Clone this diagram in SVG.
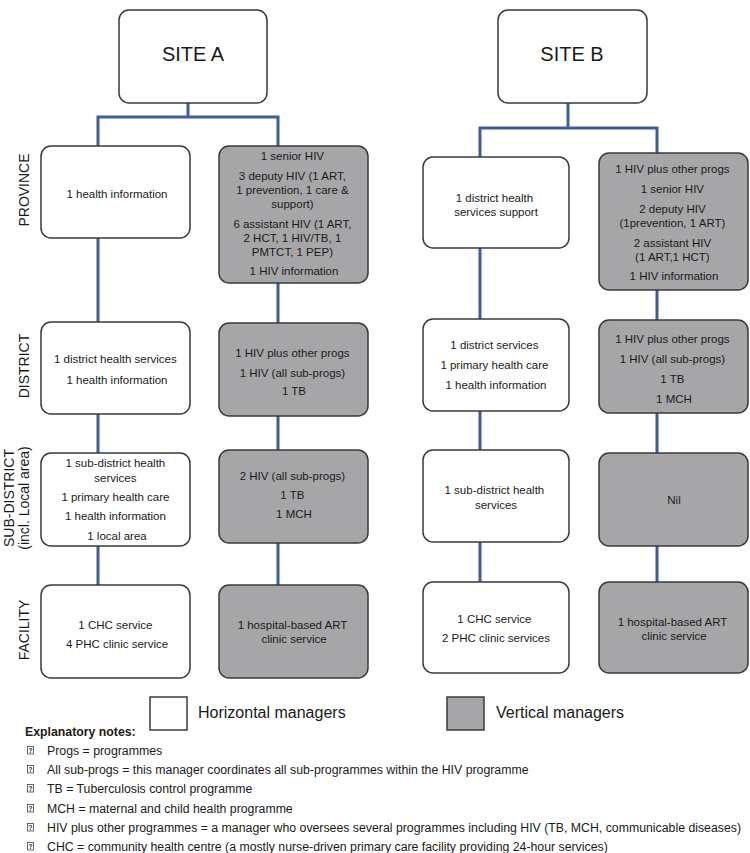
<svg xmlns="http://www.w3.org/2000/svg" width="750" height="853" viewBox="0 0 750 853">
<style>
  text { font-family: "Liberation Sans", Arial, sans-serif; fill: #1a1a1a; }
  .box { stroke: #3a3a3a; stroke-width: 1.5; }
  .h { fill: #ffffff; }
  .v { fill: #a6a6a8; }
  .t { font-size: 11.5px; text-anchor: middle; }
  .site { font-size: 20px; text-anchor: middle; }
  .row { font-size: 14px; text-anchor: middle; }
  .leg { font-size: 16px; }
  .note { font-size: 12.3px; }
  .bul { fill: #ffffff; stroke: #444; stroke-width: 0.8; }
  .q { font-size: 6.5px; text-anchor: middle; font-weight: bold; }
  .conn { fill: none; stroke: #3d5f91; stroke-width: 3; }
</style>

<g id="connectors">
  <path class="conn" d="M188,103 V117 M98,146 V117 H278 V146"/>
  <path class="conn" d="M98,238 V322 M98,414 V453 M98,546 V585"/>
  <path class="conn" d="M278,283 V323 M278,416 V450 M278,543 V585"/>
  <path class="conn" d="M568,103 V128 M480,157 V128 H657 V153"/>
  <path class="conn" d="M480,248 V319 M480,411 V450 M480,542 V582"/>
  <path class="conn" d="M657,290 V320 M657,413 V453 M657,546 V582"/>
</g>

<g id="row-labels">
  <text class="row" transform="translate(29,190) rotate(-90)">PROVINCE</text>
  <text class="row" transform="translate(29,366) rotate(-90)">DISTRICT</text>
  <text class="row" transform="translate(14,498) rotate(-90)">SUB-DISTRICT</text>
  <text class="row" transform="translate(28.5,498) rotate(-90)">(incl. Local area)</text>
  <text class="row" transform="translate(29,630) rotate(-90)">FACILITY</text>
</g>

<g id="site-a">
  <rect class="box h" x="119" y="10" width="148" height="93" rx="10"/>
  <text class="site" x="193" y="61">SITE A</text>
</g>
<g id="site-b">
  <rect class="box h" x="498" y="10" width="149" height="93" rx="10"/>
  <text class="site" x="572" y="61">SITE B</text>
</g>

<g id="a-province-h">
  <rect class="box h" x="41" y="146" width="149" height="92" rx="10"/>
  <text class="t" x="117" y="198">1 health information</text>
</g>
<g id="a-province-v">
  <rect class="box v" x="219" y="146" width="149" height="137" rx="10"/>
  <text class="t">
    <tspan x="294" y="160">1 senior HIV</tspan>
    <tspan x="294" y="180">3 deputy HIV (1 ART,</tspan>
    <tspan x="294" y="194">1 prevention, 1 care &amp;</tspan>
    <tspan x="294" y="208">support)</tspan>
    <tspan x="294" y="228">6 assistant HIV (1 ART,</tspan>
    <tspan x="294" y="242">2 HCT, 1 HIV/TB, 1</tspan>
    <tspan x="294" y="256">PMTCT, 1 PEP)</tspan>
    <tspan x="294" y="275">1 HIV information</tspan>
  </text>
</g>
<g id="a-district-h">
  <rect class="box h" x="41" y="322" width="149" height="92" rx="10"/>
  <text class="t">
    <tspan x="117" y="363">1 district health services</tspan>
    <tspan x="117" y="384">1 health information</tspan>
  </text>
</g>
<g id="a-district-v">
  <rect class="box v" x="219" y="323" width="149" height="93" rx="10"/>
  <text class="t">
    <tspan x="294" y="357">1 HIV plus other progs</tspan>
    <tspan x="294" y="377">1 HIV (all sub-progs)</tspan>
    <tspan x="294" y="395">1 TB</tspan>
  </text>
</g>
<g id="a-subdistrict-h">
  <rect class="box h" x="41" y="453" width="149" height="93" rx="10"/>
  <text class="t">
    <tspan x="117" y="467">1 sub-district health</tspan>
    <tspan x="117" y="482">services</tspan>
    <tspan x="117" y="501">1 primary health care</tspan>
    <tspan x="117" y="520">1 health information</tspan>
    <tspan x="117" y="540">1 local area</tspan>
  </text>
</g>
<g id="a-subdistrict-v">
  <rect class="box v" x="219" y="450" width="149" height="93" rx="10"/>
  <text class="t">
    <tspan x="294" y="480">2 HIV (all sub-progs)</tspan>
    <tspan x="294" y="499">1 TB</tspan>
    <tspan x="294" y="518">1 MCH</tspan>
  </text>
</g>
<g id="a-facility-h">
  <rect class="box h" x="41" y="585" width="149" height="93" rx="10"/>
  <text class="t">
    <tspan x="117" y="629">1 CHC service</tspan>
    <tspan x="117" y="648">4 PHC clinic service</tspan>
  </text>
</g>
<g id="a-facility-v">
  <rect class="box v" x="219" y="585" width="149" height="93" rx="10"/>
  <text class="t">
    <tspan x="294" y="629">1 hospital-based ART</tspan>
    <tspan x="294" y="643">clinic service</tspan>
  </text>
</g>

<g id="b-province-h">
  <rect class="box h" x="423" y="157" width="146" height="91" rx="10"/>
  <text class="t">
    <tspan x="496" y="202">1 district health</tspan>
    <tspan x="496" y="216">services support</tspan>
  </text>
</g>
<g id="b-province-v">
  <rect class="box v" x="599" y="153" width="149" height="137" rx="10"/>
  <text class="t">
    <tspan x="674" y="173">1 HIV plus other progs</tspan>
    <tspan x="674" y="193">1 senior HIV</tspan>
    <tspan x="674" y="213">2 deputy HIV</tspan>
    <tspan x="674" y="227">(1prevention, 1 ART)</tspan>
    <tspan x="674" y="247">2 assistant HIV</tspan>
    <tspan x="674" y="261">(1 ART,1 HCT)</tspan>
    <tspan x="674" y="280">1 HIV information</tspan>
  </text>
</g>
<g id="b-district-h">
  <rect class="box h" x="423" y="319" width="146" height="92" rx="10"/>
  <text class="t">
    <tspan x="496" y="349">1 district services</tspan>
    <tspan x="496" y="369">1 primary health care</tspan>
    <tspan x="496" y="389">1 health information</tspan>
  </text>
</g>
<g id="b-district-v">
  <rect class="box v" x="599" y="320" width="149" height="93" rx="10"/>
  <text class="t">
    <tspan x="674" y="343">1 HIV plus other progs</tspan>
    <tspan x="674" y="363">1 HIV (all sub-progs)</tspan>
    <tspan x="674" y="383">1 TB</tspan>
    <tspan x="674" y="403">1 MCH</tspan>
  </text>
</g>
<g id="b-subdistrict-h">
  <rect class="box h" x="423" y="450" width="146" height="92" rx="10"/>
  <text class="t">
    <tspan x="496" y="494">1 sub-district health</tspan>
    <tspan x="496" y="509">services</tspan>
  </text>
</g>
<g id="b-subdistrict-v">
  <rect class="box v" x="599" y="453" width="149" height="93" rx="10"/>
  <text class="t" x="674" y="504">Nil</text>
</g>
<g id="b-facility-h">
  <rect class="box h" x="423" y="582" width="146" height="91" rx="10"/>
  <text class="t">
    <tspan x="496" y="623">1 CHC service</tspan>
    <tspan x="496" y="642">2 PHC clinic services</tspan>
  </text>
</g>
<g id="b-facility-v">
  <rect class="box v" x="599" y="582" width="149" height="91" rx="10"/>
  <text class="t">
    <tspan x="674" y="626">1 hospital-based ART</tspan>
    <tspan x="674" y="640">clinic service</tspan>
  </text>
</g>

<g id="legend">
  <rect class="box h" x="150" y="697" width="37" height="33"/>
  <text class="leg" x="198" y="718">Horizontal managers</text>
  <rect class="box v" x="447" y="697" width="37" height="33"/>
  <text class="leg" x="496" y="718">Vertical managers</text>
</g>

<g id="notes">
  <text class="note" x="25" y="736" font-weight="bold">Explanatory notes:</text>
  <rect class="bul" x="27.5" y="746.5" width="6" height="7.5"/><text class="q" x="30.5" y="752.8">?</text>
  <text class="note" x="47" y="755">Progs = programmes</text>
  <rect class="bul" x="27.5" y="765.5" width="6" height="7.5"/><text class="q" x="30.5" y="771.8">?</text>
  <text class="note" x="47" y="774">All sub-progs = this manager coordinates all sub-programmes within the HIV programme</text>
  <rect class="bul" x="27.5" y="784.5" width="6" height="7.5"/><text class="q" x="30.5" y="790.8">?</text>
  <text class="note" x="47" y="793">TB = Tuberculosis control programme</text>
  <rect class="bul" x="27.5" y="804.5" width="6" height="7.5"/><text class="q" x="30.5" y="810.8">?</text>
  <text class="note" x="47" y="813">MCH = maternal and child health programme</text>
  <rect class="bul" x="27.5" y="823.5" width="6" height="7.5"/><text class="q" x="30.5" y="829.8">?</text>
  <text class="note" x="47" y="832">HIV plus other programmes = a manager who oversees several programmes including HIV (TB, MCH, communicable diseases)</text>
  <rect class="bul" x="27.5" y="842.5" width="6" height="7.5"/><text class="q" x="30.5" y="848.8">?</text>
  <text class="note" x="47" y="851">CHC = community health centre (a mostly nurse-driven primary care facility providing 24-hour services)</text>
</g>
</svg>
